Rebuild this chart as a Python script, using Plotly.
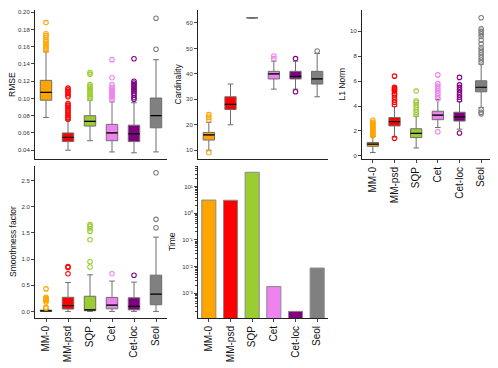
import plotly.graph_objects as go

methods = ["MM-0", "MM-psd", "SQP", "Cet", "Cet-loc", "Seol"]
colors = ["#FFA500", "#FF0000", "#9ACD32", "#EE82EE", "#800080", "#808080"]

# box statistics per metric: lower whisker, q1, median, q3, upper whisker
rmse_low = [0.078, 0.040, 0.051, 0.038, 0.037, 0.038]
rmse_q1 = [0.098, 0.050, 0.068, 0.051, 0.050, 0.066]
rmse_med = [0.107, 0.055, 0.0735, 0.060, 0.059, 0.080]
rmse_q3 = [0.121, 0.060, 0.080, 0.070, 0.069, 0.1005]
rmse_high = [0.154, 0.075, 0.098, 0.096, 0.095, 0.145]
rmse_out = [
    [0.156, 0.158, 0.160, 0.162, 0.164, 0.166, 0.168, 0.171, 0.173, 0.175, 0.188],
    [0.076, 0.078, 0.080, 0.082, 0.084, 0.086, 0.088, 0.090, 0.092, 0.094, 0.102, 0.104, 0.106, 0.108, 0.110, 0.112],
    [0.100, 0.102, 0.104, 0.106, 0.108, 0.110, 0.112, 0.114, 0.116, 0.128, 0.130],
    [0.099, 0.101, 0.103, 0.105, 0.107, 0.109, 0.111, 0.113, 0.116, 0.124, 0.145],
    [0.099, 0.101, 0.104, 0.106, 0.108, 0.110, 0.112, 0.114, 0.116, 0.118, 0.120, 0.146],
    [0.157, 0.193],
]

card_low = [10, 20, 62, 34, 34, 31]
card_q1 = [14, 26, 62, 38, 38, 36]
card_med = [16, 28, 62, 40, 39, 38]
card_q3 = [17, 31, 62, 41, 41, 41]
card_high = [21, 36, 62, 45, 45, 48]
card_out = [[9, 22, 23, 24], [], [], [46, 47], [33, 46], [49]]

l1_low = [0.26, 1.5, 0.63, 2.27, 2.14, 3.89]
l1_q1 = [0.76, 2.40, 1.46, 2.90, 2.79, 5.14]
l1_med = [0.94, 2.74, 1.80, 3.26, 3.13, 5.51]
l1_q3 = [1.07, 3.08, 2.17, 3.58, 3.50, 6.03]
l1_high = [1.54, 3.97, 3.19, 4.52, 4.36, 7.37]
l1_out = [
    [1.6, 1.7, 1.8, 1.9, 2.0, 2.1, 2.2, 2.3, 2.4, 2.5, 2.6, 2.7, 2.85],
    [1.4, 4.1, 4.3, 4.5, 4.7, 4.9, 5.0, 5.2, 5.3, 5.4, 5.5, 6.4],
    [3.3, 3.5, 3.7, 3.9, 4.1, 4.3, 4.4, 5.2],
    [1.93, 4.6, 4.8, 5.0, 5.2, 5.4, 5.6, 5.8, 6.5],
    [1.83, 4.5, 4.7, 4.9, 5.1, 5.3, 5.5, 5.7, 6.3],
    [3.37, 3.5, 3.7, 7.5, 7.7, 7.9, 8.1, 8.3, 8.5, 8.7, 9.0, 9.3, 9.6, 9.8, 10.0, 10.2, 11.1],
]

sm_low = [0.0, 0.0, 0.0, 0.0, 0.0, 0.0]
sm_q1 = [0.0, 0.045, 0.013, 0.05, 0.03, 0.127]
sm_med = [0.01, 0.108, 0.03, 0.12, 0.095, 0.33]
sm_q3 = [0.025, 0.27, 0.29, 0.267, 0.26, 0.693]
sm_high = [0.03, 0.553, 0.70, 0.58, 0.56, 1.42]
sm_out = [
    [0.06, 0.08, 0.18, 0.21, 0.23, 0.25, 0.27, 0.43],
    [0.72, 0.84, 0.86],
    [0.85, 0.95, 1.37, 1.53, 1.58, 1.63, 1.66],
    [0.72],
    [0.69],
    [1.60, 1.76, 2.65],
]

time_vals = [3.15, 3.1, 35, 0.00175, 0.000204, 0.0087]

fig = go.Figure()


def add_boxes(xa, ya, low, q1, med, q3, high, out):
    for i, m in enumerate(methods):
        fig.add_trace(go.Box(
            x=[m], q1=[q1[i]], median=[med[i]], q3=[q3[i]],
            lowerfence=[low[i]], upperfence=[high[i]],
            fillcolor=colors[i], line=dict(color="#6e6e6e", width=1),
            width=0.52, whiskerwidth=0.5, xaxis=xa, yaxis=ya,
            showlegend=False, hoverinfo="skip",
        ))
        # black median line (not drawn when the box collapses to a line)
        if low[i] != high[i]:
            fig.add_trace(go.Box(
                x=[m], q1=[med[i]], median=[med[i]], q3=[med[i]],
                lowerfence=[med[i]], upperfence=[med[i]],
                fillcolor="rgba(0,0,0,0)", line=dict(color="black", width=1.2),
                width=0.52, whiskerwidth=0, xaxis=xa, yaxis=ya,
                showlegend=False, hoverinfo="skip",
            ))
        if out[i]:
            fig.add_trace(go.Scatter(
                x=[m] * len(out[i]), y=out[i], mode="markers",
                marker=dict(symbol="circle-open", size=4.5, color=colors[i],
                            line=dict(width=1.1, color=colors[i])),
                xaxis=xa, yaxis=ya, showlegend=False, hoverinfo="skip",
            ))


add_boxes("x", "y", rmse_low, rmse_q1, rmse_med, rmse_q3, rmse_high, rmse_out)
add_boxes("x2", "y2", card_low, card_q1, card_med, card_q3, card_high, card_out)
add_boxes("x3", "y3", l1_low, l1_q1, l1_med, l1_q3, l1_high, l1_out)
add_boxes("x4", "y4", sm_low, sm_q1, sm_med, sm_q3, sm_high, sm_out)

fig.add_trace(go.Bar(
    x=methods, y=time_vals, marker=dict(color=colors, line=dict(color="#8a8a8a", width=1)),
    width=0.65, xaxis="x5", yaxis="y5", showlegend=False, hoverinfo="skip",
))

# the page body has an 8px margin, so figure coords = window coords - 8
W, H = 490, 360
OFF = 8


def fx(X):
    return (X - OFF) / W


def fy(Y):
    return (H - (Y - OFF)) / H


xd = [[fx(35), fx(167)], [fx(198), fx(328)], [fx(362), fx(492)]]
yd_top = [fy(159), fy(10)]
yd_bot = [fy(318), fy(166)]

tickfont = dict(size=6, color="#333333", family="Liberation Sans, Arial")
labfont = dict(size=10, color="#111111", family="Liberation Sans, Arial")


def xaxis(dom, anchor, labels):
    return dict(
        domain=dom, anchor=anchor, type="category", categoryarray=methods,
        categoryorder="array", range=[-0.5, 5.5], showline=True,
        linecolor="#222222", linewidth=1, showgrid=False, zeroline=False,
        showticklabels=labels, ticks="outside" if labels else "",
        ticklen=3, tickcolor="#444444", tickangle=-90, tickfont=labfont,
        automargin=False,
    )


def yaxis(dom, anchor, rng, vals, fmt):
    return dict(
        domain=dom, anchor=anchor, range=rng, tickvals=vals, tickformat=fmt,
        showline=True, linecolor="#222222", linewidth=1, showgrid=False,
        zeroline=False, ticks="outside", ticklen=3, tickcolor="#444444",
        tickfont=tickfont, automargin=False,
    )


fig.update_layout(
    width=W, height=H, margin=dict(l=0, r=0, t=0, b=0),
    paper_bgcolor="white", plot_bgcolor="white",
    xaxis=xaxis(xd[0], "y", False),
    xaxis2=xaxis(xd[1], "y2", False),
    xaxis3=xaxis(xd[2], "y3", True),
    xaxis4=xaxis(xd[0], "y4", True),
    xaxis5=xaxis(xd[1], "y5", True),
    yaxis=yaxis(yd_top, "x", [0.0298, 0.2026], [0.04, 0.06, 0.08, 0.10, 0.12, 0.14, 0.16, 0.18, 0.20], ".2f"),
    yaxis2=yaxis(yd_top, "x2", [6.55, 65.1], [10, 20, 30, 40, 50, 60], "d"),
    yaxis3=yaxis(yd_top, "x3", [-0.26, 11.72], [0, 2, 4, 6, 8, 10], "d"),
    yaxis4=yaxis(yd_bot, "x4", [-0.126, 2.78], [0, 0.5, 1.0, 1.5, 2.0, 2.5], ".1f"),
    yaxis5=dict(
        domain=yd_bot, anchor="x5", type="log", range=[-3.94, 1.78],
        tickvals=[10, 1, 0.1, 0.01, 0.001],
        ticktext=["10¹", "10⁰", "10⁻¹", "10⁻²", "10⁻³"],
        showline=True, linecolor="#222222", linewidth=1, showgrid=False,
        zeroline=False, ticks="outside", ticklen=3, tickcolor="#444444",
        tickfont=tickfont, automargin=False,
        minor=dict(ticks="outside", ticklen=2, tickcolor="#444444", dtick="D1", showgrid=False),
    ),
)

titlefont = dict(size=8.5, color="#111111", family="Liberation Sans, Arial")
titles = [
    ("RMSE", 12.5, sum(yd_top) / 2),
    ("Cardinality", 178, sum(yd_top) / 2),
    ("L1 Norm", 342, sum(yd_top) / 2),
    ("Smoothness factor", 13, sum(yd_bot) / 2),
    ("Time", 172, sum(yd_bot) / 2),
]
for text, px_x, yc in titles:
    fig.add_annotation(
        text=text, x=fx(px_x), y=yc, xref="paper", yref="paper",
        textangle=-90, showarrow=False, font=titlefont,
        xanchor="center", yanchor="middle",
    )

fig.write_html("out.html")
